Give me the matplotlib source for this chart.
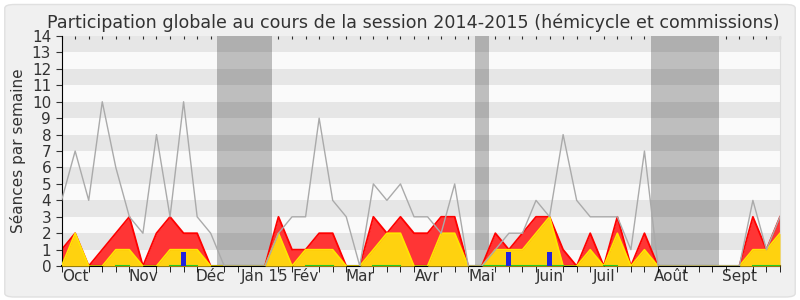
import numpy as np
import matplotlib.pyplot as plt
from matplotlib.patches import FancyBboxPatch

# weekly values, session 2014-2015 (week 0 .. 53)
weeks = np.arange(54)
total = [4, 7, 4, 10, 6, 3, 2, 8, 3, 10, 3, 2, 0, 0, 0, 0, 2, 3, 3, 9,
         4, 3, 0, 5, 4, 5, 3, 3, 2, 5, 0, 0, 1, 2, 2, 4, 3, 8, 4, 3,
         3, 3, 1, 7, 0, 0, 0, 0, 0, 0, 0, 4, 1, 3]
red = [1, 2, 0, 1, 2, 3, 0, 2, 3, 2, 2, 0, 0, 0, 0, 0, 3, 1, 1, 2,
       2, 0, 0, 3, 2, 3, 2, 2, 3, 3, 0, 0, 2, 1, 2, 3, 3, 1, 0, 2,
       0, 3, 0, 2, 0, 0, 0, 0, 0, 0, 0, 3, 1, 3]
yellow = [0, 2, 0, 0, 1, 1, 0, 0, 1, 1, 1, 0, 0, 0, 0, 0, 2, 0, 1, 1,
          1, 0, 0, 1, 2, 2, 0, 0, 2, 2, 0, 0, 1, 1, 1, 2, 3, 0, 0, 1,
          0, 2, 0, 1, 0, 0, 0, 0, 0, 0, 0, 1, 1, 2]
green_weeks = [4, 5, 8, 9, 10, 18, 19, 20, 23, 24, 25, 31, 32, 33, 34, 35,
               36, 37, 40, 41, 51, 52, 53]
blue_weeks = [9, 33, 36]
blue = [0.85, 0.85, 0.85]

vacations = [(11.5, 15.5), (30.5, 31.5), (43.5, 48.5)]
month_pos = [1, 6, 11, 15, 18, 22, 27, 31, 36, 40, 45, 50]
month_labels = ['Oct', 'Nov', 'Déc', 'Jan 15', 'Fév', 'Mar', 'Avr', 'Mai',
                'Juin', 'Juil', 'Août', 'Sept']

fig = plt.figure(figsize=(8, 3), dpi=100)
fig.patch.set_facecolor('#ffffff')
panel = FancyBboxPatch((0.006, 0.01), 0.988, 0.975,
                       boxstyle='round,pad=0,rounding_size=0.012',
                       transform=fig.transFigure, facecolor='#f0f0f0',
                       edgecolor='#e0e0e0', linewidth=1, zorder=-10)
fig.patches.append(panel)
ax = fig.add_axes([0.077, 0.113, 0.898, 0.767])
ax.set_zorder(1)
ax.set_facecolor('#fafafa')

for a, b in vacations:
    ax.axvspan(a, b, color='#bebebe', lw=0, zorder=0.5)
for y in range(1, 14, 2):
    ax.axhspan(y, y + 1, color='black', alpha=0.08, lw=0, zorder=0.6)

ax.fill_between(weeks, red, color='#ff3535', lw=0, zorder=2)
ax.plot(weeks, red, color='#ff0000', lw=1.3, zorder=2.1)
ax.fill_between(weeks, yellow, color='#ffd20f', lw=0, zorder=3)
ax.plot(weeks, yellow, color='#ffe600', lw=1.2, zorder=3.1)

green = np.full(len(weeks), np.nan)
green[green_weeks] = 0
ax.plot(weeks, green, color='#22cc22', lw=1.5, zorder=3.2)
ax.bar(blue_weeks, blue, width=0.37, color='#2222dd', zorder=4)
ax.plot(weeks, total, color='#aaaaaa', lw=1, zorder=5)

ax.set_xlim(0, 53)
ax.set_ylim(0, 14)
ax.set_yticks(range(15))
ax.tick_params(axis='y', labelsize=11, length=4, colors='#333333')
ax.set_xticks(month_pos)
ax.set_xticklabels(month_labels)
ax.set_xticks(weeks, minor=True)
ax.tick_params(axis='x', which='major', length=0, labelsize=11, colors='#333333', pad=2)
ax.tick_params(axis='x', which='minor', length=4, color='black')
ax.set_ylabel('Séances par semaine', fontsize=11, color='#333333', labelpad=4)

top = ax.secondary_xaxis('top')
top.set_xticks(weeks)
top.tick_params(length=2, direction='in', labeltop=False, color='#333333')
top.spines['top'].set_visible(False)

ax.spines['right'].set_color('#dddddd')
ax.spines['top'].set_visible(False)
ax.spines['left'].set_color('black')
ax.spines['bottom'].set_color('black')
ax.spines['bottom'].set_linewidth(1.5)

fig.text(0.516, 0.905, 'Participation globale au cours de la session 2014-2015 (hémicycle et commissions)',
         ha='center', fontsize=12.6, color='#333333')

fig.savefig('out.png', dpi=100)
